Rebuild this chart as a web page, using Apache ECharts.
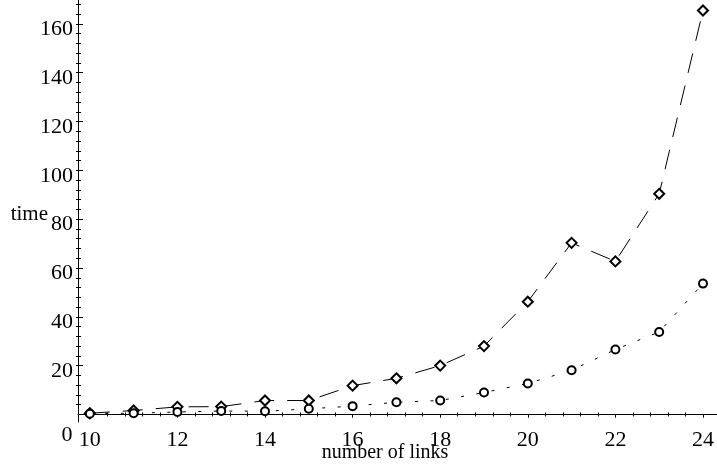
<!DOCTYPE html>
<html><head><meta charset="utf-8">
<script src="https://cdn.jsdelivr.net/npm/echarts@6/dist/echarts.min.js"></script>
<style>html,body{margin:0;padding:0;background:#fff}#c{width:717px;height:468px}</style>
</head><body><div id="c"></div>
<script>
// ---- data ----
const links = [10, 11, 12, 13, 14, 15, 16, 17, 18, 19, 20, 21, 22, 23, 24];
const timeDiamond = [0.5, 1.6, 3.1, 3.2, 5.7, 5.7, 11.8, 14.8, 20.0, 28.0, 46.2, 70.3, 62.7, 90.4, 165.5];
const timeCircle  = [0.3, 0.5, 1.0, 1.4, 1.3, 2.3, 3.4, 5.0, 5.7, 9.0, 12.7, 18.1, 26.6, 33.8, 53.6];
const xTickLabels = [10, 12, 14, 16, 18, 20, 22, 24];
const yTickLabels = [20, 40, 60, 80, 100, 120, 140, 160];
const xMinorTicks = [];
for (let k = 25; k <= 60; k++) { if (k % 5 !== 0) xMinorTicks.push(Math.round(k * 4) / 10); }
const yMinorTicks = [];
for (let v = 4; v <= 168; v += 4) { if (v % 20 !== 0) yMinorTicks.push(v); }

const X_MIN = 9.73, X_MAX = 24.32, Y_MIN = -3.1, Y_MAX = 169.8;
const FONT = '"Liberation Serif", "Times New Roman", serif';
const FS = 22;
const black = '#000';

function xAx(extra) {
  return Object.assign({
    type: 'value', min: X_MIN, max: X_MAX, gridIndex: 0,
    splitLine: { show: false },
    axisLine: { show: false, onZero: true, onZeroAxisIndex: 0 },
    axisLabel: { show: false },
    axisTick: { show: false }
  }, extra);
}
function yAx(extra) {
  return Object.assign({
    type: 'value', min: Y_MIN, max: Y_MAX, gridIndex: 0, position: 'left',
    splitLine: { show: false },
    axisLine: { show: false, onZero: false },
    axisLabel: { show: false },
    axisTick: { show: false }
  }, extra);
}

const chart = echarts.init(document.getElementById('c'), null, { renderer: 'canvas' });
chart.setOption({
  animation: false,
  backgroundColor: '#fff',
  grid: { left: 78, right: 0, top: 0, bottom: 41.3, containLabel: false },
  xAxis: [
    xAx({
      axisLine: { show: true, onZero: true, onZeroAxisIndex: 0, lineStyle: { color: black, width: 1 } },
      axisTick: { show: true, customValues: xTickLabels, length: 3, inside: false, lineStyle: { color: black, width: 1 } },
      axisLabel: { show: true, customValues: xTickLabels, margin: 7, color: black, fontFamily: FONT, fontSize: FS },
      name: 'number of links', nameLocation: 'middle', nameGap: 21, nameMoveOverlap: false,
      nameTextStyle: { color: black, fontFamily: FONT, fontSize: 20, padding: [0, 25, 0, 0] }
    }),
    xAx({ axisTick: { show: true, customValues: xTickLabels, length: 3, inside: true, lineStyle: { color: black, width: 1 } } }),
    xAx({ axisTick: { show: true, customValues: xMinorTicks, length: 2, inside: true, lineStyle: { color: black, width: 1 } } }),
    xAx({ axisTick: { show: true, customValues: xMinorTicks, length: 2, inside: false, lineStyle: { color: black, width: 1 } } })
  ],
  yAxis: [
    yAx({
      axisLine: { show: true, onZero: false, lineStyle: { color: black, width: 1 } },
      axisTick: { show: true, customValues: yTickLabels, length: 2, inside: false, lineStyle: { color: black, width: 1 } },
      axisLabel: { show: true, customValues: yTickLabels, margin: 5, color: black, fontFamily: FONT, fontSize: FS,
                   verticalAlign: 'top', lineHeight: 11 },
      name: 'time', nameLocation: 'middle', nameRotate: 0, nameGap: 30, nameMoveOverlap: false,
      nameTextStyle: { color: black, fontFamily: FONT, fontSize: 21, verticalAlign: 'top', lineHeight: 6 }
    }),
    yAx({ axisTick: { show: true, customValues: yTickLabels, length: 5, inside: true, lineStyle: { color: black, width: 1 } } }),
    yAx({ axisTick: { show: true, customValues: yMinorTicks, length: 3, inside: true, lineStyle: { color: black, width: 1 } } }),
    yAx({ axisTick: { show: true, customValues: yMinorTicks, length: 2, inside: false, lineStyle: { color: black, width: 1 } } })
  ],
  graphic: [{
    type: 'text', x: 72.5, y: 435.5, z: 10,
    style: { text: '0', fill: black, font: FS + 'px ' + FONT, align: 'right', verticalAlign: 'middle' }
  }],
  series: [
    {
      type: 'line', xAxisIndex: 0, yAxisIndex: 0,
      data: links.map((x, i) => [x, timeDiamond[i]]),
      symbol: 'emptyDiamond', symbolSize: [10, 10],
      lineStyle: { color: black, width: 1, type: [20, 13] },
      itemStyle: { color: black, borderColor: black, borderWidth: 1 },
      emphasis: { disabled: true }
    },
    {
      type: 'line', xAxisIndex: 0, yAxisIndex: 0,
      data: links.map((x, i) => [x, timeCircle[i]]),
      symbol: 'emptyCircle', symbolSize: 8,
      lineStyle: { color: black, width: 1, type: [3, 12.5] },
      itemStyle: { color: black, borderColor: black, borderWidth: 1 },
      emphasis: { disabled: true }
    }
  ]
});
</script>
</body></html>
